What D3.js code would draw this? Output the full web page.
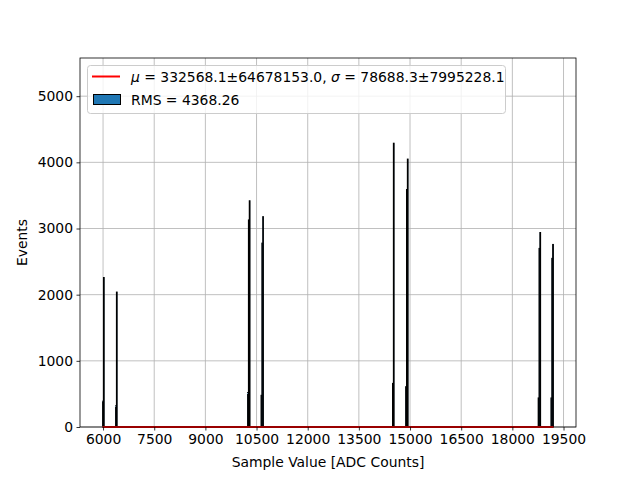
<!DOCTYPE html>
<html>
<head>
<meta charset="utf-8">
<script src="https://cdn.jsdelivr.net/npm/d3@7"></script>
<style>
  body { margin: 0; background: #fff; }
  text { font-family: "DejaVu Sans", sans-serif; }
</style>
</head>
<body>
<div id="viz"></div>
<script>
// histogram bins (left edge, ADC counts) and their event counts
var binWidth = 25;
var binStart = [5985, 6010, 6365, 6390,
                10235, 10260, 10285, 10630, 10655, 10680,
                14485, 14510, 14870, 14895, 14920,
                18755, 18780, 18805, 19130, 19155, 19180];
var binCount = [390, 2260, 320, 2040,
                520, 3130, 3420, 480, 2780, 3180,
                660, 4290, 610, 3590, 4050,
                440, 2700, 2940, 440, 2550, 2760];

// gaussian fit curve (flat at this scale)
var fitX = [5985, 19205];
var fitY = [0, 0];

var xTicks = [6000, 7500, 9000, 10500, 12000, 13500, 15000, 16500, 18000, 19500];
var yTicks = [0, 1000, 2000, 3000, 4000, 5000];

var width = 640,
    height = 480;
var margin = {left: 80, right: 64, top: 58, bottom: 53};
var plotW = width - margin.left - margin.right,
    plotH = height - margin.top - margin.bottom;

var svg = d3.select("#viz")
    .append("svg")
    .attr("width", width)
    .attr("height", height);

var xMin = d3.min(binStart),
    xMax = d3.max(binStart) + binWidth,
    pad = 0.05 * (xMax - xMin);

var x = d3.scaleLinear()
    .domain([xMin - pad, xMax + pad])
    .range([margin.left, margin.left + plotW]);

var y = d3.scaleLinear()
    .domain([0, d3.max(binCount) * 1.3])
    .range([margin.top + plotH, margin.top]);

// grid
var grid = svg.append("g").attr("class", "grid");
grid.selectAll("line.gx")
    .data(xTicks)
    .enter().append("line")
      .attr("x1", function(d) { return x(d); })
      .attr("x2", function(d) { return x(d); })
      .attr("y1", margin.top)
      .attr("y2", margin.top + plotH)
      .attr("stroke", "#b0b0b0")
      .attr("stroke-width", 0.8);
grid.selectAll("line.gy")
    .data(yTicks)
    .enter().append("line")
      .attr("x1", margin.left)
      .attr("x2", margin.left + plotW)
      .attr("y1", function(d) { return y(d); })
      .attr("y2", function(d) { return y(d); })
      .attr("stroke", "#b0b0b0")
      .attr("stroke-width", 0.8);

// bars
svg.append("g")
    .selectAll("rect")
    .data(binStart)
    .enter().append("rect")
      .attr("x", function(d) { return x(d); })
      .attr("width", function(d) { return x(d + binWidth) - x(d); })
      .attr("y", function(d, i) { return y(binCount[i]); })
      .attr("height", function(d, i) { return y(0) - y(binCount[i]); })
      .attr("fill", "#1f77b4")
      .attr("stroke", "#000")
      .attr("stroke-width", 0.9);

// fit line
var line = d3.line()
    .x(function(d, i) { return x(fitX[i]); })
    .y(function(d) { return y(d); });
svg.append("path")
    .datum(fitY)
    .attr("d", line)
    .attr("fill", "none")
    .attr("stroke", "red")
    .attr("stroke-width", 2);

// axes
var xAxis = svg.append("g")
    .attr("transform", "translate(0," + (margin.top + plotH) + ")")
    .call(d3.axisBottom(x).tickValues(xTicks).tickSize(3.5).tickPadding(3.5).tickFormat(d3.format("d")));
var yAxis = svg.append("g")
    .attr("transform", "translate(" + margin.left + ",0)")
    .call(d3.axisLeft(y).tickValues(yTicks).tickSize(3.5).tickPadding(3.5).tickFormat(d3.format("d")));
[xAxis, yAxis].forEach(function(a) {
  a.select(".domain").remove();
  a.selectAll("text").style("font-size", "13.9px").attr("fill", "#000");
  a.selectAll("line").attr("stroke", "#000").attr("stroke-width", 0.8);
});

svg.append("rect")
    .attr("x", margin.left)
    .attr("y", margin.top)
    .attr("width", plotW)
    .attr("height", plotH)
    .attr("fill", "none")
    .attr("stroke", "#000")
    .attr("stroke-width", 0.8);

// labels
svg.append("text")
    .attr("x", margin.left + plotW / 2)
    .attr("y", 467)
    .attr("text-anchor", "middle")
    .style("font-size", "13.9px")
    .text("Sample Value [ADC Counts]");
svg.append("text")
    .attr("transform", "translate(27," + (margin.top + plotH / 2) + ") rotate(-90)")
    .attr("text-anchor", "middle")
    .style("font-size", "13.9px")
    .text("Events");

// legend
var legend = svg.append("g");
legend.append("rect")
    .attr("x", 87.5).attr("y", 65.5)
    .attr("width", 418).attr("height", 48)
    .attr("rx", 3)
    .attr("fill", "#fff").attr("fill-opacity", 0.8)
    .attr("stroke", "#cccccc");
legend.append("line")
    .attr("x1", 92).attr("x2", 120)
    .attr("y1", 76.5).attr("y2", 76.5)
    .attr("stroke", "red").attr("stroke-width", 2);
var t1 = legend.append("text")
    .attr("x", 131).attr("y", 81.5)
    .style("font-size", "13.9px");
t1.append("tspan").style("font-style", "italic").text("\u03bc");
t1.append("tspan").text(" = 332568.1\u00b164678153.0, ");
t1.append("tspan").style("font-style", "italic").text("\u03c3");
t1.append("tspan").text(" = 78688.3\u00b17995228.1");
legend.append("rect")
    .attr("x", 93.5).attr("y", 94.5)
    .attr("width", 27).attr("height", 10)
    .attr("fill", "#1f77b4").attr("stroke", "#000");
legend.append("text")
    .attr("x", 131).attr("y", 105)
    .style("font-size", "13.9px")
    .text("RMS = 4368.26");
</script>
</body>
</html>
